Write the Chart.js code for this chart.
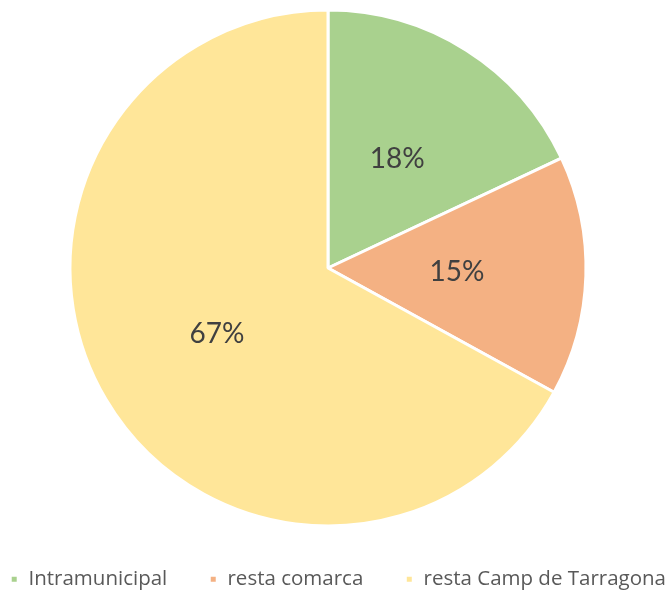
<!DOCTYPE html>
<html>
<head>
<meta charset="utf-8">
<script src="https://cdn.jsdelivr.net/npm/chart.js@4"></script>
<style>
html,body{margin:0;padding:0;background:#fff;}
#wrap{width:668px;height:594px;}
</style>
</head>
<body>
<div id="wrap"><canvas id="c" width="668" height="594"></canvas></div>
<script>
const categories = ['Intramunicipal', 'resta comarca', 'resta Camp de Tarragona'];
const values = [18, 15, 67];
const colors = ['#A9D18E', '#F4B183', '#FFE699'];
const LABEL_FONT = 'Lato, "Open Sans", sans-serif';
const LEGEND_FONT = '"Open Sans", Lato, sans-serif';

const labelPlugin = {
  id: 'sliceLabels',
  afterDatasetsDraw(chart) {
    const ctx = chart.ctx;
    const meta = chart.getDatasetMeta(0);
    const total = values.reduce((a, b) => a + b, 0);
    ctx.save();
    ctx.font = '28px ' + LABEL_FONT;
    ctx.fillStyle = '#404040';
    ctx.textAlign = 'center';
    ctx.textBaseline = 'middle';
    meta.data.forEach((arc, i) => {
      const p = arc.getCenterPoint();
      ctx.fillText(Math.round(values[i] / total * 100) + '%', p.x, p.y);
    });
    ctx.restore();
  }
};

// Shrink the plot area on the right so the pie sits slightly left of centre
const areaInset = {
  id: 'areaInset',
  afterLayout(chart) {
    const a = chart.chartArea;
    a.right -= 12;
    a.width = a.right - a.left;
  }
};

new Chart(document.getElementById('c'), {
  type: 'pie',
  data: {
    labels: categories,
    datasets: [{
      data: values,
      backgroundColor: colors,
      borderColor: '#ffffff',
      borderWidth: 3,
      radius: 258
    }]
  },
  options: {
    responsive: false,
    animation: false,
    layout: { padding: { top: 9, left: -52, right: -40, bottom: 0 } },
    plugins: {
      tooltip: { enabled: false },
      legend: {
        position: 'bottom',
        align: 'end',
        maxHeight: 67,
        labels: {
          boxWidth: 8,
          boxHeight: 8,
          padding: 42,
          color: '#595959',
          font: { family: LEGEND_FONT, size: 20.5 }
        }
      }
    }
  },
  plugins: [labelPlugin, areaInset]
});
</script>
</body>
</html>
